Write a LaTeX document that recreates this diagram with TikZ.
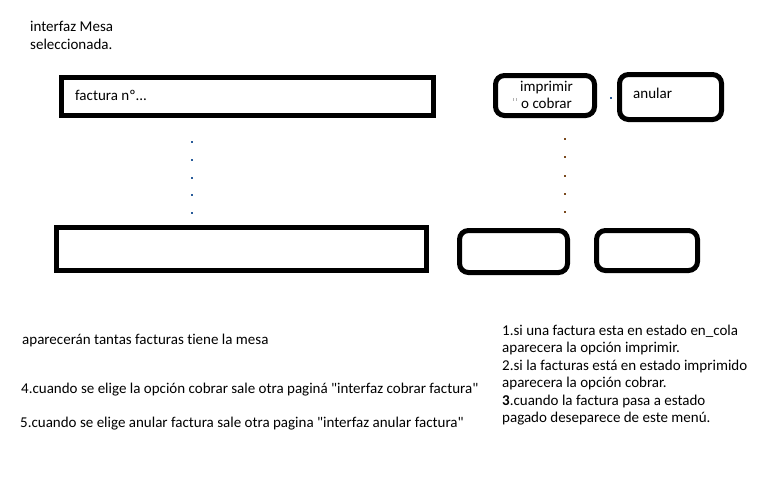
\documentclass[tikz,border=0pt]{standalone}
\usepackage{fontspec}
\setmainfont{Carlito}[Ligatures={NoCommon}]
\definecolor{puntoazul}{HTML}{2A5C9A}
\definecolor{puntomarron}{HTML}{7A4A1E}
\tikzset{
  caja/.style={draw, line width=5pt, minimum width=#1, inner sep=0pt},
  boton/.style={caja=#1, rounded corners=9pt},
  texto/.style={anchor=base west, inner sep=0pt, align=left,
    font=\fontsize{15pt}{17.8pt}\selectfont}
}
\begin{document}
\begin{tikzpicture}[x=1pt,y=-1pt]
      \useasboundingbox (0,0) rectangle (768,480);

      \begin{scope}
        \node[caja=372pt, minimum height=38pt] (factura1) at (247.5,96.5) {};
        \node[caja=370pt, minimum height=43pt] (facturaN) at (241.5,249) {};
        \node[boton=99pt, minimum height=40pt] (imprimir) at (545,95.5) {};
        \node[boton=102pt, minimum height=45pt] (anular) at (670.5,97) {};
        \node[boton=108pt, minimum height=42pt] (imprimirN) at (513.5,251.5) {};
        \node[boton=101pt, minimum height=40pt] (anularN) at (647,250.5) {};
      \end{scope}

      \foreach \y in {141,158.75,176.5,194.25,212}
        \fill[puntoazul] (191,\y) rectangle ++(2,2);
      \foreach \y in {138,156.25,174.5,192.75,211}
        \fill[puntomarron] (564,\y) rectangle ++(2,2);
      \fill[puntoazul] (610,97) rectangle ++(1.5,2);
      \fill[gray!60] (513,98) rectangle ++(1,2.5);
      \fill[gray!60] (516,98) rectangle ++(1,2.5);

      \begin{scope}[every node/.style={texto}]
        \node (titulo) at (30,49) {interfaz Mesa\\seleccionada.};
        \node (numero) at (75,100) {factura nº...};
        \node (imprimirtxt) at (520,91.5) {imprimir};
        \node (cobrartxt) at (521,108) {o cobrar};
        \node (anulartxt) at (633,98) {anular};
        \node (nota) at (22,344) {aparecerán tantas facturas tiene la mesa};
        \node (nota4) at (21,393) {4.cuando se elige la opción cobrar sale otra paginá \textquotedbl interfaz cobrar factura\textquotedbl};
        \node (nota5) at (20,427) {5.cuando se elige anular factura sale otra pagina \textquotedbl interfaz anular factura\textquotedbl};
        \node[font=\fontsize{15pt}{17.5pt}\selectfont] (estados) at (502,422.5)
          {1.si una factura esta en estado en\_cola\\aparecera la opción imprimir.\\
           2.si la facturas está en estado imprimido\\aparecera la opción cobrar.\\
           \textbf{3}.cuando la factura pasa a estado\\pagado deseparece de este menú.};
      \end{scope}

    \end{tikzpicture}
\end{document}
